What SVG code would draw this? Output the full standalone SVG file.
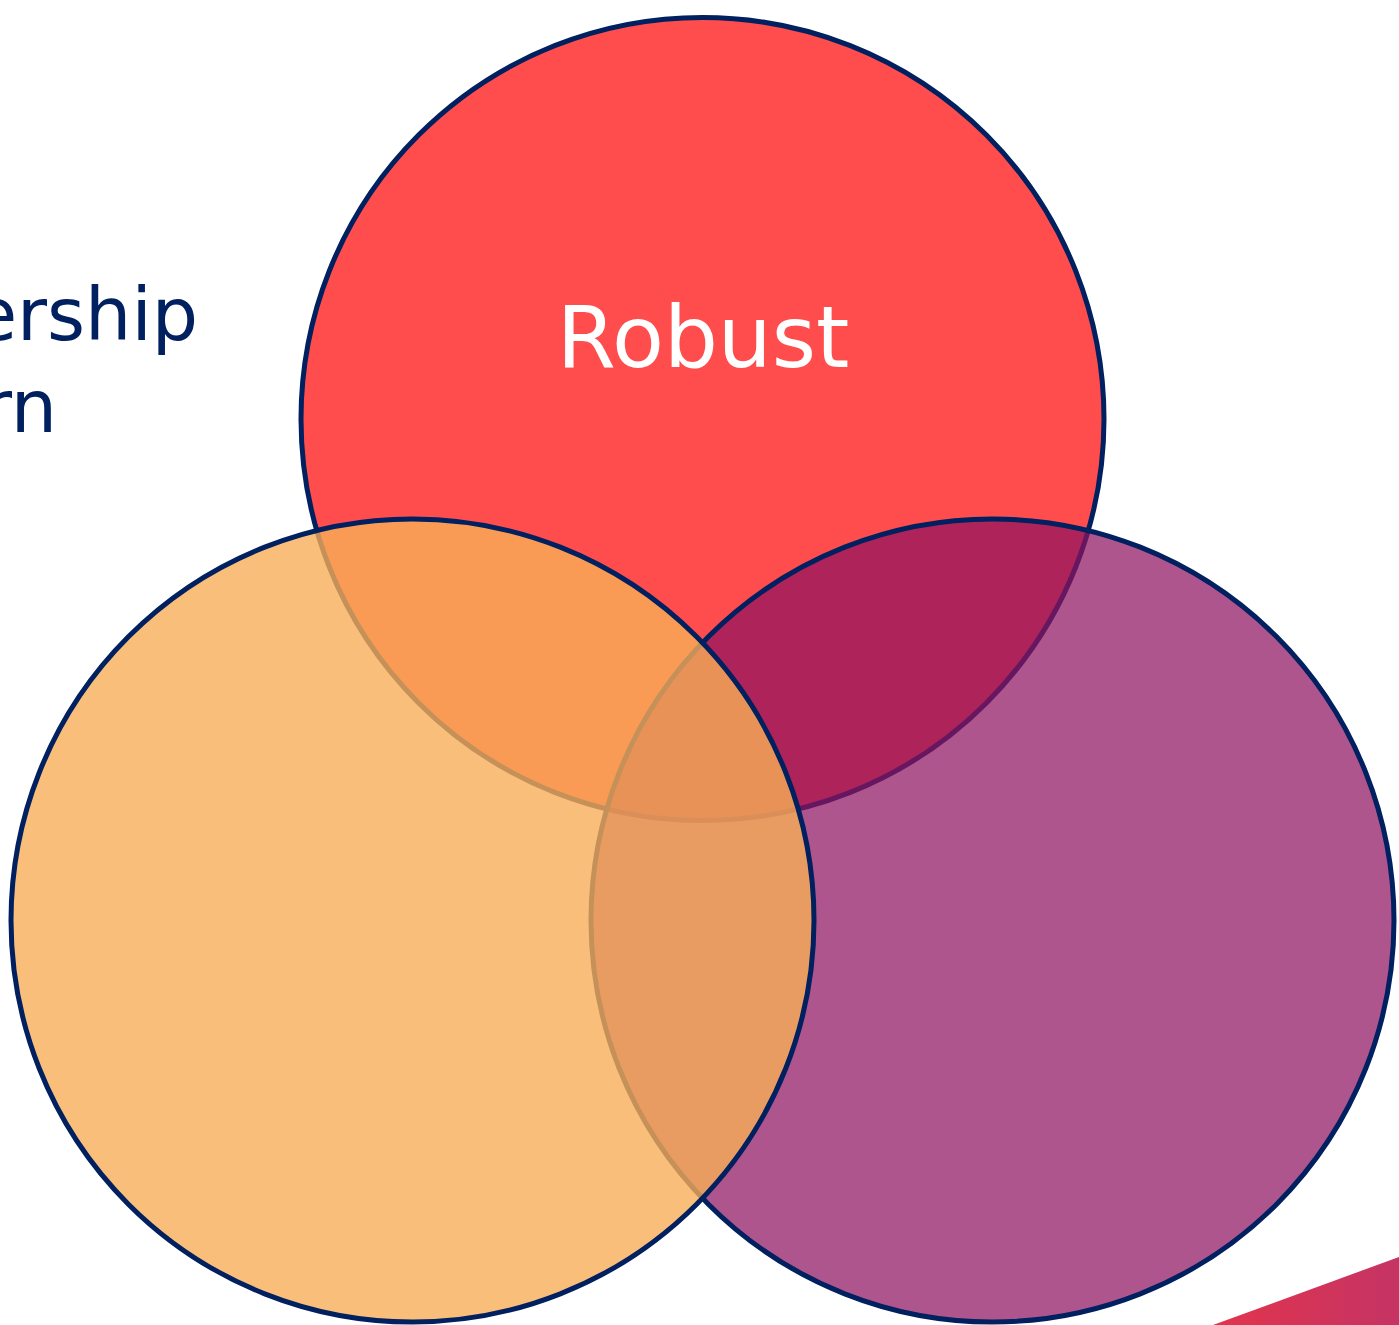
<svg xmlns="http://www.w3.org/2000/svg" width="1399" height="1325" viewBox="0 0 1399 1325">
<defs>
<linearGradient id="tri" x1="0" y1="0" x2="1" y2="0">
<stop offset="0" stop-color="#E2344C"/>
<stop offset="1" stop-color="#C53464"/>
</linearGradient>
<style>
.c{stroke:#002060;stroke-width:5}
.lbl{font-family:"DejaVu Sans",Verdana,sans-serif}
</style>
</defs>
<rect width="1399" height="1325" fill="#FFFFFF"/>
<polygon points="1213,1325 1399,1257 1399,1325" fill="url(#tri)"/>
<g id="side-text" class="lbl" fill="#002060" font-size="73" text-anchor="end">
<text x="198" y="340">ership</text>
<text x="57" y="432">rn</text>
</g>
<g id="robust">
<circle class="c" cx="702.5" cy="419" r="401.5" fill="#FF4D4D"/>
<text class="lbl" x="703" y="367" font-size="85" fill="#FFFFFF" text-anchor="middle">Robust</text>
</g>
<g id="purple">
<circle class="c" cx="992.5" cy="920.5" r="401.5" fill="#8E135F" fill-opacity="0.72"/>
</g>
<g id="orange">
<circle class="c" cx="412.5" cy="920.5" r="401.5" fill="#F8AE57" fill-opacity="0.8"/>
</g>
<g id="connectors"/>
</svg>
